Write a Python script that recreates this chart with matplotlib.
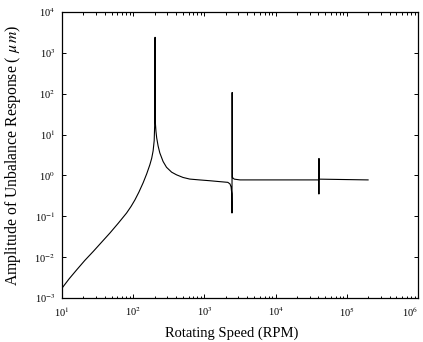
import matplotlib
matplotlib.use("Agg")
import matplotlib.pyplot as plt
from matplotlib.ticker import LogLocator, FixedLocator, NullFormatter

rpm = [10, 12.6, 16.1, 20.9, 27.5, 36.0, 47.1, 61.7, 80.7, 93.3, 105.7, 120.2,
       138.0, 154.9, 171.4, 182.0, 190.5, 197.2, 200.9, 202.8, 204.6, 208.9,
       213.8, 223.9, 236.6, 263.0, 293.8, 346.7, 405.5, 501.2, 623.7, 851.1,
       1191, 1585, 2138, 2291, 2371, 2427, 2443, 2455, 2472, 2512, 2630, 3162,
       10000, 40550, 40640, 40740, 40830, 199500]
amp = [1.74e-3, 2.95e-3, 4.9e-3, 8.3e-3, 1.38e-2, 2.32e-2, 3.89e-2, 6.76e-2,
       0.120, 0.174, 0.251, 0.389, 0.661, 1.096, 1.82, 2.63, 3.98, 7.08, 20,
       2400, 20, 12.0, 8.3, 5.25, 3.55, 2.19, 1.58, 1.20, 1.035, 0.891, 0.813,
       0.776, 0.741, 0.708, 0.676, 0.617, 0.525, 0.355, 0.12, 107, 0.89, 0.87,
       0.81, 0.776, 0.776, 0.776, 0.35, 2.6, 0.81, 0.776]

xticks = [1e1, 1e2, 1e3, 1e4, 1e5, 1e6]
xticklabels = ["10$^{1}$", "10$^{2}$", "10$^{3}$", "10$^{4}$", "10$^{5}$", "10$^{6}$"]
yticks = [1e-3, 1e-2, 1e-1, 1e0, 1e1, 1e2, 1e3, 1e4]
yticklabels = ["10$^{-3}$", "10$^{-2}$", "10$^{-1}$", "10$^{0}$", "10$^{1}$",
               "10$^{2}$", "10$^{3}$", "10$^{4}$"]

plt.rcParams['font.family'] = ['Liberation Serif', 'DejaVu Serif']
plt.rcParams['mathtext.fontset'] = 'stix'

fig = plt.figure(figsize=(4.23, 3.42), dpi=100)
ax = fig.add_axes([0.1466, 0.1287, 0.8414, 0.8363])
ax.plot(rpm, amp, color='black', lw=0.8)
ax.set_xscale('log')
ax.set_yscale('log')
ax.set_xlim(1e1, 1e6)
ax.set_ylim(1e-3, 1e4)
ax.xaxis.set_major_locator(FixedLocator(xticks))
ax.set_xticklabels(xticklabels, fontsize=7.5)
ax.get_xticklabels()[-1].set_horizontalalignment('right')
ax.yaxis.set_major_locator(FixedLocator(yticks))
ax.set_yticklabels(yticklabels, fontsize=7.5)
ax.xaxis.set_minor_locator(LogLocator(base=10, subs=range(2, 10), numticks=20))
ax.xaxis.set_minor_formatter(NullFormatter())
ax.yaxis.set_minor_locator(FixedLocator([]))
ax.tick_params(which='both', direction='in', top=True, right=True, width=0.7)
ax.tick_params(which='major', length=3, pad=5)
ax.tick_params(which='minor', length=1.8)
for s in ax.spines.values():
    s.set_linewidth(0.9)
ax.set_xlabel("Rotating Speed (RPM)", fontsize=10.5, labelpad=9)
ax.xaxis.set_label_coords(0.478, -0.1)
ax.set_ylabel("Amplitude of Unbalance Response ( $\\mu\\,m$)", fontsize=11.3, labelpad=8)
fig.savefig("out.png", dpi=100)
